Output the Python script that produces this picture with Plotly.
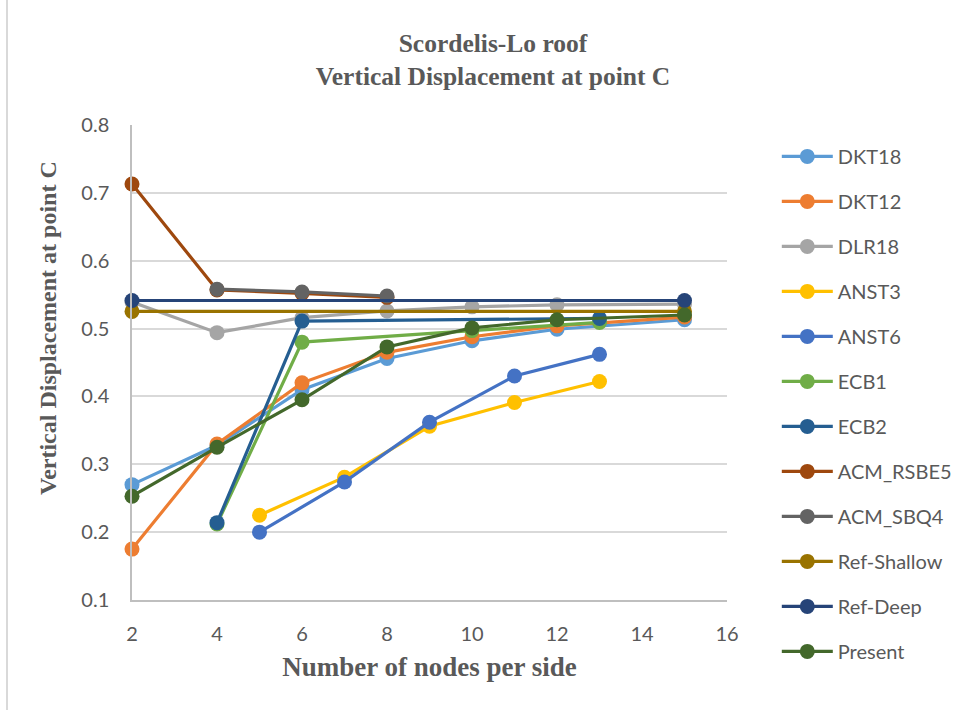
import plotly.graph_objects as go

# Convergence of the vertical displacement at point C, Scordelis-Lo roof
dkt18_x = [2, 4, 6, 8, 10, 12, 15]
dkt18_y = [0.270, 0.328, 0.410, 0.456, 0.482, 0.499, 0.513]

dkt12_x = [2, 4, 6, 8, 10, 12, 15]
dkt12_y = [0.175, 0.330, 0.420, 0.465, 0.488, 0.504, 0.517]

dlr18_x = [2, 4, 6, 8, 10, 12, 15]
dlr18_y = [0.539, 0.494, 0.516, 0.526, 0.532, 0.535, 0.536]

anst3_x = [5, 7, 9, 11, 13]
anst3_y = [0.225, 0.281, 0.356, 0.391, 0.422]

anst6_x = [5, 7, 9, 11, 13]
anst6_y = [0.200, 0.274, 0.362, 0.430, 0.462]

ecb1_x = [4, 6, 10, 13]
ecb1_y = [0.212, 0.480, 0.497, 0.509]

ecb2_x = [4, 6, 13]
ecb2_y = [0.214, 0.511, 0.515]

rsbe5_x = [2, 4, 6, 8]
rsbe5_y = [0.713, 0.557, 0.552, 0.546]

sbq4_x = [4, 6, 8]
sbq4_y = [0.558, 0.554, 0.548]

shallow_x = [2, 15]
shallow_y = [0.5253, 0.5253]

deep_x = [2, 15]
deep_y = [0.5414, 0.5414]

present_x = [2, 4, 6, 8, 10, 12, 15]
present_y = [0.253, 0.325, 0.395, 0.473, 0.501, 0.513, 0.520]

x_ticks = [2, 4, 6, 8, 10, 12, 14, 16]
y_ticks = [0.1, 0.2, 0.3, 0.4, 0.5, 0.6, 0.7, 0.8]

series = [
    ("DKT18", dkt18_x, dkt18_y, "#5B9BD5"),
    ("DKT12", dkt12_x, dkt12_y, "#ED7D31"),
    ("DLR18", dlr18_x, dlr18_y, "#A5A5A5"),
    ("ANST3", anst3_x, anst3_y, "#FFC000"),
    ("ANST6", anst6_x, anst6_y, "#4472C4"),
    ("ECB1", ecb1_x, ecb1_y, "#70AD47"),
    ("ECB2", ecb2_x, ecb2_y, "#255E91"),
    ("ACM_RSBE5", rsbe5_x, rsbe5_y, "#9E480E"),
    ("ACM_SBQ4", sbq4_x, sbq4_y, "#636363"),
    ("Ref-Shallow", shallow_x, shallow_y, "#997300"),
    ("Ref-Deep", deep_x, deep_y, "#264478"),
    ("Present", present_x, present_y, "#43682B"),
]

TEXT = "#595959"
SERIF = "Liberation Serif"
SANS = "Lato"

fig = go.Figure()
for i, (name, xs, ys, col) in enumerate(series):
    fig.add_trace(go.Scatter(
        x=xs, y=ys, name=name, mode="lines+markers",
        line=dict(color=col, width=3.2),
        marker=dict(color=col, size=15),
        cliponaxis=False,
        legendgroup=f"g{i}",
    ))

fig.update_layout(
    width=973, height=711,
    margin=dict(l=132, r=246, t=125, b=111),
    paper_bgcolor="white", plot_bgcolor="white",
    showlegend=True,
    legend=dict(
        x=1.0837, xref="paper", xanchor="left",
        y=0.975, yanchor="top",
        font=dict(family=SANS, size=20, color=TEXT),
        tracegroupgap=16, itemwidth=51, maxheight=700,
        bgcolor="rgba(0,0,0,0)",
    ),
    title=dict(
        text="<b>Scordelis-Lo roof<br>Vertical Displacement at point C</b>",
        x=493 / 973, xanchor="center", y=0.927, yanchor="top",
        font=dict(family=SERIF, size=25.5, color=TEXT),
    ),
    xaxis=dict(
        range=[2, 16], tickvals=x_ticks, ticktext=[str(v) for v in x_ticks],
        showgrid=False, zeroline=False,
        showline=True, linecolor="#BFBFBF", linewidth=1.5,
        ticks="", ticklabelstandoff=15,
        tickfont=dict(family=SANS, size=20, color=TEXT),
        title=dict(text="<b>Number of nodes per side</b>",
                   font=dict(family=SERIF, size=27, color=TEXT), standoff=13),
    ),
    yaxis=dict(
        range=[0.1, 0.8], tickvals=y_ticks, ticktext=[f"{v:.1f}" for v in y_ticks],
        showgrid=True, gridcolor="#D9D9D9", gridwidth=1.5, zeroline=False,
        showline=True, linecolor="#BFBFBF", linewidth=1.5,
        ticks="", ticklabelstandoff=17,
        tickfont=dict(family=SANS, size=20, color=TEXT),
    ),
)

fig.add_annotation(
    text="<b>Vertical Displacement at point C</b>",
    xref="paper", yref="paper", x=-84 / 595, y=(600 - 328) / 475,
    textangle=-90, showarrow=False, xanchor="center", yanchor="middle",
    font=dict(family=SERIF, size=24, color=TEXT),
)

# thin frame line on the left edge of the chart
fig.add_shape(type="line", xref="paper", yref="paper",
              x0=-125 / 595, x1=-125 / 595, y0=-110 / 475, y1=1 + 125 / 475,
              line=dict(color="#D9D9D9", width=2))

fig.write_html("out.html")
